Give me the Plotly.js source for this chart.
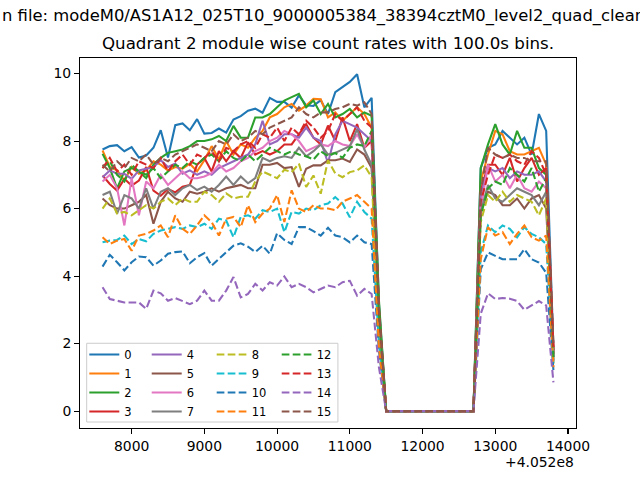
<!DOCTYPE html>
<html><head><meta charset="utf-8">
<script src="https://cdn.plot.ly/plotly-3.0.1.min.js"></script>
<style>html,body{margin:0;padding:0;background:#fff}#chart{width:640px;height:480px}</style>
</head><body><div id="chart"></div>
<script>
// time offsets (s) relative to 4.052e8
const timeOffsets = [7600,7700,7800,7900,8000,8100,8200,8300,8400,8500,8600,8700,8800,8900,9000,9100,9200,9300,9400,9500,9600,9700,9800,9900,10000,10100,10200,10300,10400,10500,10600,10700,10800,10900,11000,11100,11200,11300,11400,11500,11600,11700,11800,11900,12000,12100,12200,12300,12400,12500,12600,12700,12800,12900,13000,13100,13200,13300,13400,13500,13600,13700,13800];

const m0 = [7.75,7.85,7.88,7.70,7.82,7.51,7.57,7.80,8.32,7.51,8.47,8.52,8.32,8.65,8.22,8.24,8.37,8.25,8.64,8.74,8.90,8.96,8.84,9.28,9.16,9.16,8.99,9.35,9.06,9.04,9.21,8.80,9.45,9.60,9.75,9.98,9.00,9.28,3.2,0,0,0,0,0,0,0,0,0,0,0,0,0,7.2,7.8,7.9,8.3,8.1,7.9,8.1,7.6,8.8,8.3,1.8];
const m1 = [7.72,7.23,7.13,6.83,7.23,7.03,7.13,7.40,7.30,7.13,7.23,7.18,7.33,7.10,7.43,7.85,7.45,8.00,7.60,7.90,7.80,8.10,8.30,8.70,8.80,9.00,9.10,8.90,9.05,9.25,9.24,8.70,8.85,8.60,8.80,9.00,8.80,8.40,3.0,0,0,0,0,0,0,0,0,0,0,0,0,0,6.8,7.6,8.3,8.2,7.7,7.6,7.6,7.7,7.8,7.3,1.7];
const m2 = [7.62,7.20,6.60,7.10,7.20,7.10,6.90,7.30,7.50,7.65,7.70,7.75,7.85,8.00,8.00,8.05,8.15,8.00,8.45,8.10,8.10,8.70,8.70,8.80,9.00,9.20,9.30,9.40,9.00,9.20,8.80,9.10,8.70,8.80,8.95,8.70,8.85,8.75,3.3,0,0,0,0,0,0,0,0,0,0,0,0,0,7.2,7.9,8.5,7.9,7.6,8.3,7.8,7.8,7.2,7.0,1.6];
const m3 = [6.98,6.73,6.53,6.88,6.68,6.83,7.23,6.53,6.38,6.58,6.48,6.65,6.70,7.30,7.50,7.10,7.70,7.40,7.70,7.50,7.96,7.60,7.70,7.60,7.70,7.90,7.90,8.20,8.50,8.10,7.90,8.46,8.00,8.70,8.00,8.50,7.80,8.00,2.9,0,0,0,0,0,0,0,0,0,0,0,0,0,6.5,7.3,7.3,7.0,7.5,6.8,7.2,7.5,7.0,7.2,1.8];
const m4 = [6.93,7.13,7.03,7.03,6.88,7.13,7.18,7.23,7.43,7.23,7.33,7.03,7.13,7.00,7.10,7.00,7.20,7.30,7.40,7.50,7.60,7.90,8.60,7.90,8.00,8.20,8.20,8.10,8.40,8.10,8.00,7.35,8.20,8.60,8.50,8.40,8.20,8.00,2.8,0,0,0,0,0,0,0,0,0,0,0,0,0,6.4,7.2,7.1,7.2,6.9,7.1,7.0,7.0,7.1,6.8,1.6];
const m5 = [6.30,6.10,6.00,6.00,6.10,6.20,6.40,5.55,6.20,6.50,6.30,6.20,6.50,6.44,6.50,6.60,6.50,6.60,6.65,6.70,6.60,6.60,7.30,7.30,7.35,7.20,7.23,6.64,7.18,7.28,7.28,7.43,7.43,7.48,7.38,7.75,7.60,7.20,2.6,0,0,0,0,0,0,0,0,0,0,0,0,0,5.9,6.5,6.4,6.1,6.1,6.3,6.0,6.3,6.4,6.0,1.7];
const m6 = [6.80,7.00,6.60,5.50,6.90,5.80,6.80,6.60,7.00,6.70,6.90,7.10,6.90,6.90,6.95,7.05,7.30,7.10,7.20,7.40,7.50,7.70,7.80,8.00,8.10,8.30,8.20,8.00,7.70,7.80,7.90,7.85,8.00,7.90,7.85,8.20,7.80,8.20,2.7,0,0,0,0,0,0,0,0,0,0,0,0,0,6.0,7.3,6.8,7.0,6.6,7.0,6.6,6.5,6.8,6.6,1.5];
const m7 = [6.40,6.50,5.85,6.40,6.30,6.00,6.60,6.00,6.50,6.60,6.40,6.60,6.70,6.55,6.65,6.50,6.70,6.95,6.70,6.95,6.75,6.90,7.50,7.40,7.50,7.55,7.50,7.80,7.55,7.70,7.90,7.60,7.65,7.75,7.85,8.35,7.75,7.30,2.5,0,0,0,0,0,0,0,0,0,0,0,0,0,5.9,6.7,6.3,6.2,6.4,6.6,6.5,6.4,6.1,6.5,1.5];
const m8 = [6.00,6.30,5.85,5.90,5.80,5.95,6.10,6.00,6.20,6.30,6.10,6.30,6.20,6.20,6.50,6.40,6.20,6.45,6.30,6.35,6.35,6.80,7.10,7.00,6.90,7.15,7.08,7.33,6.64,6.98,6.44,7.43,7.04,6.93,7.08,7.13,7.28,6.93,2.4,0,0,0,0,0,0,0,0,0,0,0,0,0,5.6,6.4,6.2,6.5,6.2,6.4,6.3,6.2,5.8,6.3,1.4];
const m9 = [5.00,5.05,5.07,5.20,4.95,5.10,5.03,5.25,5.35,5.40,5.45,5.40,5.50,5.45,5.55,5.40,5.70,5.65,5.15,5.75,5.80,5.70,5.95,5.90,6.00,5.30,5.90,5.85,6.00,5.95,6.10,6.15,6.34,6.15,5.74,6.20,5.90,5.70,2.0,0,0,0,0,0,0,0,0,0,0,0,0,0,4.7,5.5,5.3,5.5,5.4,5.15,5.45,5.25,5.15,4.95,1.4];
const m10 = [4.28,4.63,4.41,4.17,4.41,4.58,4.56,4.31,4.46,4.66,4.71,4.73,4.38,4.56,4.68,4.31,4.51,4.71,4.90,4.97,4.87,4.71,4.90,4.66,5.27,5.07,4.95,5.45,5.45,5.33,5.20,5.43,5.20,5.15,5.00,5.20,5.00,4.95,1.8,0,0,0,0,0,0,0,0,0,0,0,0,0,4.2,4.7,4.6,4.5,4.5,4.5,4.8,4.5,4.4,4.1,1.2];
const m11 = [5.15,4.95,5.05,5.10,4.75,5.20,5.25,5.35,5.50,5.15,5.80,5.40,5.25,5.50,5.80,5.60,5.20,5.70,5.75,5.45,6.10,5.60,5.85,6.00,6.40,5.60,6.54,6.00,5.90,6.10,6.00,6.00,5.95,6.20,6.30,6.40,6.20,6.00,1.9,0,0,0,0,0,0,0,0,0,0,0,0,0,4.5,5.45,5.2,5.3,4.95,5.25,5.5,5.15,5.05,5.2,1.3];
const m12 = [7.20,7.40,7.00,6.80,7.30,7.10,7.00,7.20,6.90,7.10,7.30,7.20,7.40,7.30,7.50,7.60,7.40,7.70,7.50,7.40,7.60,7.40,7.60,7.80,7.70,7.60,7.70,7.60,7.55,7.45,7.70,7.55,7.65,7.50,7.80,7.90,7.85,8.30,2.9,0,0,0,0,0,0,0,0,0,0,0,0,0,5.8,6.6,6.8,6.7,7.2,7.0,6.8,7.2,6.5,6.9,1.6];
const m13 = [7.20,7.50,7.10,7.30,7.00,7.40,7.30,7.20,7.50,7.10,7.40,7.60,7.30,7.60,7.50,7.70,7.40,7.80,7.70,7.90,8.00,7.80,8.20,8.10,8.40,8.00,8.40,8.20,8.60,8.40,8.10,8.30,8.80,8.60,8.80,9.00,8.60,8.40,3.0,0,0,0,0,0,0,0,0,0,0,0,0,0,6.2,7.0,7.6,7.5,7.6,7.4,7.3,7.7,7.5,7.0,1.9];
const m14 = [3.67,3.32,3.27,3.22,3.22,3.22,3.03,3.57,3.49,3.27,3.35,3.27,3.17,3.27,3.57,3.27,3.27,3.57,3.97,3.37,3.47,3.77,3.57,3.82,3.72,3.99,3.67,3.77,3.67,3.52,3.62,3.72,3.67,3.82,3.86,3.42,3.62,3.47,1.3,0,0,0,0,0,0,0,0,0,0,0,0,0,2.88,3.49,3.32,3.35,3.33,3.26,3.0,3.13,3.26,3.13,0.85];
const m15 = [7.30,7.10,7.40,7.20,7.50,7.40,7.60,7.30,7.50,7.40,7.60,7.70,7.80,7.90,7.80,7.70,8.00,7.90,8.20,8.00,8.10,8.30,8.20,8.40,8.50,8.60,8.70,9.00,8.80,8.70,8.85,8.85,8.95,9.00,9.10,9.05,9.15,8.80,3.1,0,0,0,0,0,0,0,0,0,0,0,0,0,6.5,7.8,7.6,7.5,7.6,7.5,7.5,7.4,7.4,7.4,2.0];

const moduleLabels = ['0','1','2','3','4','5','6','7','8','9','10','11','12','13','14','15'];
const yTickVals = [0,2,4,6,8,10];
const xTickVals = [8000,9000,10000,11000,12000,13000,14000];
const titleText = 'Quadrant 2 module wise count rates with 100.0s bins.';
const fileText = 'n file: modeM0/AS1A12_025T10_9000005384_38394cztM0_level2_quad_clean.evt';
const offsetText = '+4.052e8';

const palette = ['#1f77b4','#ff7f0e','#2ca02c','#d62728','#9467bd','#8c564b','#e377c2','#7f7f7f','#bcbd22','#17becf'];
const modules = [m0,m1,m2,m3,m4,m5,m6,m7,m8,m9,m10,m11,m12,m13,m14,m15];
const legendIds = ['legend','legend2','legend3','legend4'];
const FONT = 'DejaVu Sans, Liberation Sans, sans-serif';

const traces = modules.map((vals, k) => ({
  type: 'scatter', mode: 'lines',
  x: timeOffsets, y: vals, name: moduleLabels[k],
  line: {color: palette[k % 10], width: 2.08, dash: k >= 8 ? '7.7px,3.3px' : 'solid'},
  legend: legendIds[Math.floor(k / 4)],
  hoverinfo: 'skip'
}));

const legendCols = [0.0087, 0.1345, 0.2655, 0.3966];
function mkLegend(x) {
  return {x: x, xanchor: 'left', y: 0.238, yanchor: 'top', orientation: 'v',
    bgcolor: 'rgba(0,0,0,0)', borderwidth: 0, tracegroupgap: 0, itemwidth: 30,
    font: {family: FONT, size: 11.5, color: '#000'}};
}

const axisCommon = {
  ticks: 'outside', ticklen: 4.9, tickwidth: 1.1, tickcolor: '#000',
  showline: true, linecolor: '#000', linewidth: 1.1, mirror: true,
  showgrid: false, zeroline: false,
  tickfont: {family: FONT, size: 13.9, color: '#000'}
};

const layout = {
  width: 640, height: 480,
  margin: {l: 80, r: 64, t: 58, b: 52, pad: 0},
  paper_bgcolor: '#fff', plot_bgcolor: '#fff',
  showlegend: true,
  xaxis: Object.assign({}, axisCommon, {range: [7290, 14110], tickmode: 'array', tickvals: xTickVals, ticktext: xTickVals.map(String)}),
  yaxis: Object.assign({}, axisCommon, {range: [-0.5, 10.46], tickmode: 'array', tickvals: yTickVals, ticktext: yTickVals.map(String)}),
  legend: mkLegend(legendCols[0]),
  legend2: mkLegend(legendCols[1]),
  legend3: mkLegend(legendCols[2]),
  legend4: mkLegend(legendCols[3]),
  shapes: [{type: 'rect', xref: 'paper', yref: 'paper', x0: 0.0135, x1: 0.520, y0: 0.0162, y1: 0.229,
    fillcolor: 'rgba(255,255,255,0.8)', line: {color: '#cccccc', width: 1}, layer: 'above'}],
  annotations: [
    {text: titleText, xref: 'paper', yref: 'paper', x: 0.5, y: 1, xanchor: 'center', yanchor: 'bottom', yshift: 3,
     showarrow: false, font: {family: FONT, size: 16.67, color: '#000'}},
    {text: fileText, xref: 'paper', yref: 'paper', x: -80/496, y: (427.7-16)/370, xanchor: 'left', yanchor: 'middle',
     showarrow: false, font: {family: FONT, size: 16.4, color: '#000'}},
    {text: offsetText, xref: 'paper', yref: 'paper', x: 1, y: (427.7-461.3)/370, xanchor: 'right', yanchor: 'middle',
     showarrow: false, font: {family: FONT, size: 13.9, color: '#000'}}
  ]
};

Plotly.newPlot('chart', traces, layout, {displayModeBar: false, staticPlot: true});
</script></body></html>
